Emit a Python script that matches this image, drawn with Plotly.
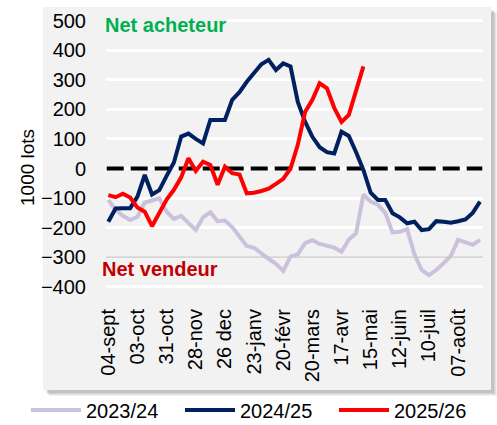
import plotly.graph_objects as go

# ---- data ----
tick_idx = [0, 4, 8, 12, 16, 20, 24, 28, 32, 36, 40, 44, 48]
tick_labels = ["04-sept", "03-oct", "31-oct", "28-nov", "26 dec", "23-janv", "20-févr",
               "20-mars", "17-avr", "15-mai", "12-juin", "10-juil", "07-août"]

s2023 = [-106, -140, -160, -174, -163, -115, -108, -101, -146, -170, -160, -185, -208, -165,
         -148, -178, -176, -198, -232, -262, -268, -288, -305, -322, -346, -298, -290, -252,
         -242, -255, -262, -267, -281, -240, -219, -88, -112, -122, -150, -216, -214, -205,
         -290, -343, -360, -343, -320, -295, -241, -250, -258, -241]
s2024 = [-180, -135, -134, -134, -95, -22, -88, -73, -25, 20, 108, 118, 100, 85, 164, 165, 164,
         232, 258, 293, 320, 352, 367, 333, 355, 345, 225, 158, 107, 72, 55, 51, 124, 110, 55,
         -5, -82, -106, -106, -151, -165, -185, -180, -208, -205, -178, -180, -183, -178, -172,
         -150, -112]
s2025 = [-90, -97, -85, -98, -132, -146, -195, -150, -105, -72, -30, 35, -8, 23, 12, -55, 6,
         -16, -20, -84, -82, -76, -68, -52, -35, 0, 80, 191, 232, 288, 271, 205, 157, 181, 268, 345]

series_names = ["2023/24", "2024/25", "2025/26"]
series_colors = ["#ccc1da", "#002060", "#ff0000"]
y_ticks = [-400, -300, -200, -100, 0, 100, 200, 300, 400, 500]

FONT = "Arial, Liberation Sans, sans-serif"
FS = 20

# ---- layout geometry (px) ----
W, H = 497, 425
L, R, T, B = 106, 14, 10, 129
pw, ph = W - L - R, H - T - B


def px_x(p):
    return (p - L) / pw


def px_y(p):
    return (H - B - p) / ph


x_lo = -(108.3 - L) / 7.29
x_hi = 51 + (L + pw - 480) / 7.29
y_top = (168.5 - T) / 0.296
y_bot = (168.5 - (H - B)) / 0.296

fig = go.Figure()
for name, col, vals in zip(series_names, series_colors, [s2023, s2024, s2025]):
    fig.add_trace(go.Scatter(x=list(range(len(vals))), y=vals, mode="lines", name=name,
                             line=dict(color=col, width=4)))

shapes = []
# shadow
for off, op in [(6, 0.05), (5, 0.06), (4, 0.07), (3, 0.08)]:
    shapes.append(dict(type="rect", xref="paper", yref="paper", layer="below",
                       x0=px_x(43 + off), x1=px_x(491 + off), y0=px_y(390 + off), y1=px_y(7 + off),
                       line=dict(width=0), fillcolor=f"rgba(0,0,0,{op})"))
shapes.append(dict(type="rect", xref="paper", yref="paper", layer="below",
                   x0=px_x(43), x1=px_x(491), y0=px_y(390), y1=px_y(7),
                   line=dict(width=0), fillcolor="#f2f2f2"))
# gray -300 line and dashed zero line (between gridlines and traces)
shapes.append(dict(type="line", xref="x", yref="y", layer="between",
                   x0=x_lo, x1=x_hi, y0=-300, y1=-300, line=dict(color="#d4d4d4", width=2)))
shapes.append(dict(type="line", xref="x", yref="y", layer="between",
                   x0=x_lo + 0.1, x1=x_hi - 0.1, y0=0, y1=0,
                   line=dict(color="black", width=4, dash="17px,7px")))

fig.update_layout(
    width=W, height=H, autosize=False,
    margin=dict(l=L, r=R, t=T, b=B, autoexpand=False),
    paper_bgcolor="white", plot_bgcolor="rgba(0,0,0,0)",
    font=dict(family=FONT, size=FS, color="black"),
    shapes=shapes,
    showlegend=True,
    legend=dict(orientation="h", xref="paper", yref="paper",
                x=px_x(26), xanchor="left", y=px_y(410), yanchor="middle",
                font=dict(size=FS, family=FONT), bgcolor="rgba(0,0,0,0)",
                entrywidth=89, entrywidthmode="pixels", itemwidth=50),
    xaxis=dict(range=[x_lo, x_hi], tickmode="array", tickvals=tick_idx, ticktext=tick_labels,
               tickangle=-90, showgrid=False, zeroline=False, showline=False,
               ticks="outside", ticklen=4, tickcolor="rgba(0,0,0,0)",
               tickfont=dict(size=FS, family=FONT)),
    yaxis=dict(range=[y_bot, y_top], tickmode="array", tickvals=y_ticks,
               showgrid=True, gridcolor="white", gridwidth=3, zeroline=False, showline=False,
               ticks="outside", ticklen=15, tickcolor="rgba(0,0,0,0)",
               tickfont=dict(size=FS, family=FONT)),
    annotations=[
        dict(text="<b>Net acheteur</b>", xref="paper", yref="paper", x=px_x(103), y=px_y(24.5),
             xanchor="left", yanchor="middle", showarrow=False, bgcolor="#f2f2f2",
             font=dict(color="#00b050", size=FS, family=FONT)),
        dict(text="<b>Net vendeur</b>", xref="paper", yref="paper", x=px_x(100), y=px_y(269),
             xanchor="left", yanchor="middle", showarrow=False,
             font=dict(color="#c00000", size=FS, family=FONT)),
        dict(text="1000 lots", xref="paper", yref="paper", x=px_x(27), y=px_y(168),
             xanchor="center", yanchor="middle", textangle=-90, showarrow=False,
             font=dict(color="black", size=19, family=FONT)),
    ],
)

fig.write_html("out.html", config={"displayModeBar": False},
               post_script="document.body.style.margin='0px';")
